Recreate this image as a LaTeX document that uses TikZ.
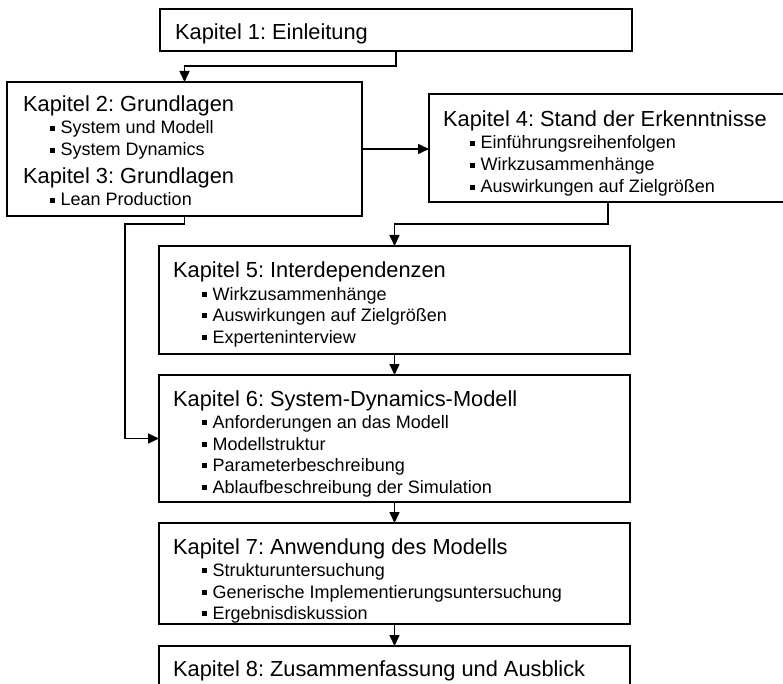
\documentclass[tikz,border=0pt]{standalone}
\usepackage{fontspec}
\setmainfont{Liberation Sans}
\usetikzlibrary{arrows.meta}
\frenchspacing
\newcommand{\sqb}{\raisebox{3.2pt}{\rule{4.5pt}{4.5pt}}\hspace{6pt}}
\tikzset{
  box/.style={draw, line width=1.2pt, rectangle, inner sep=0pt, outer sep=0pt, anchor=north west},
  ttl/.style={anchor=base west, inner sep=0pt, font=\fontsize{21.8}{26}\selectfont\frenchspacing},
  itm/.style={anchor=base west, inner sep=0pt, font=\fontsize{18}{22}\selectfont\frenchspacing},
  conn/.style={line width=1.6pt, -{Triangle[length=11pt,width=10pt]}},
  plain/.style={line width=1.6pt}
}
\begin{document}
\begin{tikzpicture}[x=1pt,y=-1pt]
\useasboundingbox (0,0) rectangle (783,684);
\clip (0,0) rectangle (783,684);
\fill[white] (0,0) rectangle (783,684);
% boxes
\node[box, minimum width=472pt, minimum height=42pt] (b1) at (160,9) {};
\node[box, minimum width=355pt, minimum height=134pt] (b2) at (7,82) {};
\node[box, minimum width=358pt, minimum height=108pt] (b4) at (429,94) {};
\node[box, minimum width=471pt, minimum height=108pt] (b5) at (159,246) {};
\node[box, minimum width=471pt, minimum height=127pt] (b6) at (159,375) {};
\node[box, minimum width=471pt, minimum height=101pt] (b7) at (159,523) {};
\node[box, minimum width=471pt, minimum height=60pt] (b8) at (159,646) {};
% texts
\node[ttl] (t1) at (175,40) {Kapitel 1: Einleitung};
\node[ttl] (t2) at (23,112) {Kapitel 2: Grundlagen};
\node[itm] (t2a) at (50,134) {\sqb System und Modell};
\node[itm] (t2b) at (50,156) {\sqb System Dynamics};
\node[ttl] (t3) at (23,184) {Kapitel 3: Grundlagen};
\node[itm] (t3a) at (50,206) {\sqb Lean Production};
\node[ttl] (t4) at (443,127) {Kapitel 4: Stand der Erkenntnisse};
\node[itm] (t4a) at (470,149) {\sqb Einführungsreihenfolgen};
\node[itm] (t4b) at (470,171) {\sqb Wirkzusammenhänge};
\node[itm] (t4c) at (470,193) {\sqb Auswirkungen auf Zielgrößen};
\node[ttl] (t5) at (173,277) {Kapitel 5: Interdependenzen};
\node[itm] (t5a) at (202,300) {\sqb Wirkzusammenhänge};
\node[itm] (t5b) at (202,321) {\sqb Auswirkungen auf Zielgrößen};
\node[itm] (t5c) at (202,343) {\sqb Experteninterview};
\node[ttl] (t6) at (173,406) {Kapitel 6: System-Dynamics-Modell};
\node[itm] (t6a) at (202,428) {\sqb Anforderungen an das Modell};
\node[itm] (t6b) at (202,450) {\sqb Modellstruktur};
\node[itm] (t6c) at (202,471) {\sqb Parameterbeschreibung};
\node[itm] (t6d) at (202,493) {\sqb Ablaufbeschreibung der Simulation};
\node[ttl] (t7) at (173,554) {Kapitel 7: Anwendung des Modells};
\node[itm] (t7a) at (202,576) {\sqb Strukturuntersuchung};
\node[itm] (t7b) at (202,598) {\sqb Generische Implementierungsuntersuchung};
\node[itm] (t7c) at (202,619) {\sqb Ergebnisdiskussion};
\node[ttl] (t8) at (173,676) {Kapitel 8: Zusammenfassung und Ausblick};
% connectors
\draw[conn] (b1.south) -- ++(0,15) -| (b2.north);
\draw[conn] (b2.east) -- (b2.east -| b4.west);
\draw[conn] (b4.south) -- ++(0,22) -| (b5.north);
\coordinate (c6) at ([xshift=-34pt]b6.west);
\draw[conn] (b2.south) -- ++(0,8) -| (c6) -- (b6.west);
\draw[conn] (b5.south) -- (b6.north);
\draw[conn] (b6.south) -- (b7.north);
\draw[conn] (b7.south) -- (b8.north);
\end{tikzpicture}
\end{document}
